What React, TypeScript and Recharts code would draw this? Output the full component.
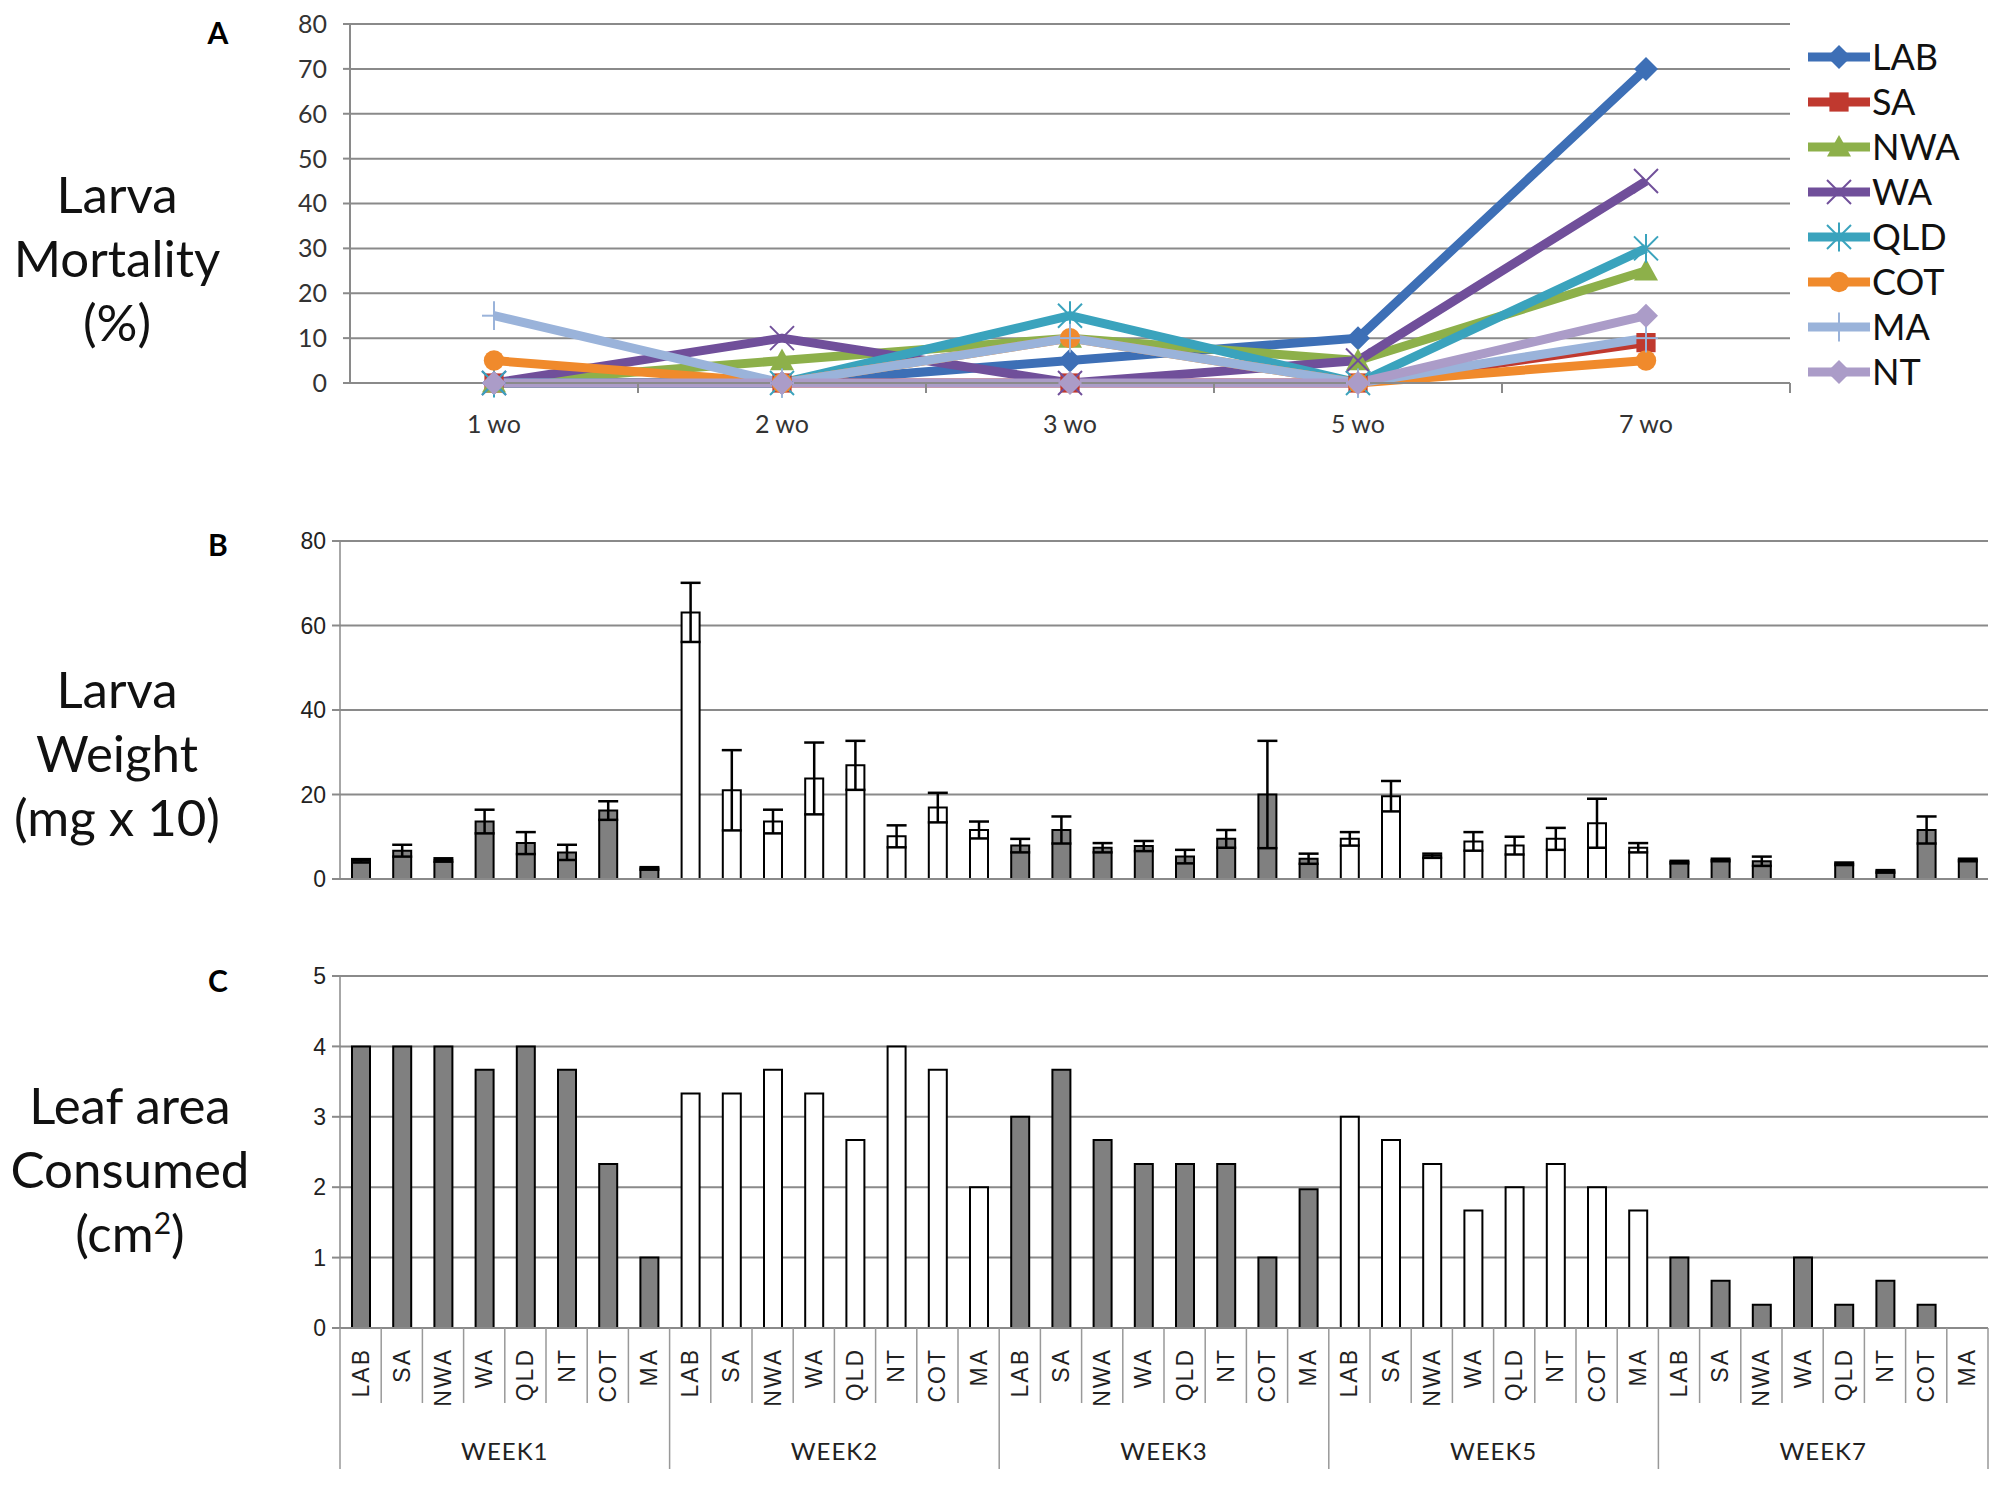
import React from 'react';
import { LineChart, Line, BarChart, Bar, XAxis, YAxis, CartesianGrid, ErrorBar, Cell } from 'recharts';

// ---- panel A: larva mortality (%) ----
const timepoints = ['1 wo', '2 wo', '3 wo', '5 wo', '7 wo'];
const LAB = [0, 0, 5, 10, 70];
const SA = [0, 0, 0, 0, 9];
const NWA = [0, 5, 10, 5, 25];
const WA = [0, 10, 0, 5, 45];
const QLD = [0, 0, 15, 0, 30];
const COT = [5, 0, 10, 0, 5];
const MA = [15, 0, 10, 0, 10];
const NT = [0, 0, 0, 0, 15];

const mortalitySeries = [
  { name: 'LAB', values: LAB, color: '#3d6fb6', shape: 'diamond' },
  { name: 'SA', values: SA, color: '#c0392f', shape: 'square' },
  { name: 'NWA', values: NWA, color: '#8db04a', shape: 'triangle' },
  { name: 'WA', values: WA, color: '#704f9a', shape: 'x' },
  { name: 'QLD', values: QLD, color: '#3aa3bd', shape: 'star' },
  { name: 'COT', values: COT, color: '#f08a2c', shape: 'circle' },
  { name: 'MA', values: MA, color: '#9ab3da', shape: 'plus' },
  { name: 'NT', values: NT, color: '#ab9cc8', shape: 'diamond' },
];

// ---- panels B and C ----
const sites = ['LAB', 'SA', 'NWA', 'WA', 'QLD', 'NT', 'COT', 'MA'];
const weeks = ['WEEK1', 'WEEK2', 'WEEK3', 'WEEK5', 'WEEK7'];
const weekFill = ['#808080', '#ffffff', '#808080', '#ffffff', '#808080'];

const weightW1 = [4.3, 6.7, 4.5, 13.6, 8.5, 6.3, 16.2, 2.5];
const weightW2 = [63.1, 21.0, 13.6, 23.8, 26.9, 10.1, 16.9, 11.6];
const weightW3 = [7.9, 11.6, 7.4, 7.8, 5.3, 9.5, 20.0, 4.8];
const weightW5 = [9.5, 19.6, 5.5, 8.9, 7.9, 9.5, 13.2, 7.4];
const weightW7 = [4.0, 4.5, 4.2, null, 3.6, 1.8, 11.6, 4.5];

const errW1 = [0.4, 1.4, 0.4, 2.8, 2.6, 1.8, 2.2, 0.3];
const errW2 = [7.0, 9.5, 2.8, 8.5, 5.8, 2.6, 3.5, 2.0];
const errW3 = [1.6, 3.2, 1.1, 1.2, 1.6, 2.1, 12.7, 1.2];
const errW5 = [1.6, 3.6, 0.5, 2.2, 2.1, 2.6, 5.8, 1.1];
const errW7 = [0.3, 0.3, 1.1, null, 0.3, 0.3, 3.2, 0.3];

const leafW1 = [4, 4, 4, 3.67, 4, 3.67, 2.33, 1];
const leafW2 = [3.33, 3.33, 3.67, 3.33, 2.67, 4, 3.67, 2];
const leafW3 = [3, 3.67, 2.67, 2.33, 2.33, 2.33, 1, 1.97];
const leafW5 = [3, 2.67, 2.33, 1.67, 2, 2.33, 2, 1.67];
const leafW7 = [1, 0.67, 0.33, 1, 0.33, 0.67, 0.33, 0];

const weightByWeek = [weightW1, weightW2, weightW3, weightW5, weightW7];
const errByWeek = [errW1, errW2, errW3, errW5, errW7];
const leafByWeek = [leafW1, leafW2, leafW3, leafW5, leafW7];

const mortalityData = timepoints.map((t, i) => {
  const row: any = { t };
  mortalitySeries.forEach((s) => (row[s.name] = s.values[i]));
  return row;
});

const barData = weeks.flatMap((week, wi) =>
  sites.map((site, si) => ({
    key: `${week}|${site}`,
    week,
    site,
    weight: weightByWeek[wi][si],
    err: errByWeek[wi][si],
    leaf: leafByWeek[wi][si],
    fill: weekFill[wi],
  }))
);

const GRID = '#8a8a8a';
const A_LEFT = 350;
const A_RIGHT = 1790;
const BC_LEFT = 340;
const BC_RIGHT = 1988;

const Marker = ({ shape, cx, cy, color, s = 12 }: any) => {
  switch (shape) {
    case 'diamond':
      return <polygon points={`${cx},${cy - s} ${cx + s},${cy} ${cx},${cy + s} ${cx - s},${cy}`} fill={color} />;
    case 'square':
      return <rect x={cx - s * 0.8} y={cy - s * 0.8} width={s * 1.6} height={s * 1.6} fill={color} />;
    case 'triangle':
      return <polygon points={`${cx},${cy - s} ${cx + s},${cy + s * 0.8} ${cx - s},${cy + s * 0.8}`} fill={color} />;
    case 'circle':
      return <circle cx={cx} cy={cy} r={s * 0.85} fill={color} />;
    case 'x':
      return (
        <g stroke={color} strokeWidth={2}>
          <line x1={cx - s} y1={cy - s} x2={cx + s} y2={cy + s} />
          <line x1={cx - s} y1={cy + s} x2={cx + s} y2={cy - s} />
        </g>
      );
    case 'star':
      return (
        <g stroke={color} strokeWidth={2}>
          <line x1={cx - s} y1={cy - s} x2={cx + s} y2={cy + s} />
          <line x1={cx - s} y1={cy + s} x2={cx + s} y2={cy - s} />
          <line x1={cx} y1={cy - s * 1.2} x2={cx} y2={cy + s * 1.2} />
        </g>
      );
    case 'plus':
      return (
        <g stroke={color} strokeWidth={2}>
          <line x1={cx} y1={cy - s * 1.2} x2={cx} y2={cy + s * 1.2} />
          <line x1={cx - s} y1={cy} x2={cx + s} y2={cy} />
        </g>
      );
    default:
      return null;
  }
};

const TimeTick = ({ x, y, payload }: any) => {
  const half = (A_RIGHT - A_LEFT) / timepoints.length / 2;
  return (
    <g>
      <line x1={x + half} x2={x + half} y1={y} y2={y + 10} stroke={GRID} strokeWidth={2} />
      <text x={x} y={y + 40} textAnchor="middle" dominantBaseline="central" fontFamily="Lato" fontSize={25} fill="#333">
        {payload.value}
      </text>
    </g>
  );
};

const SiteTick = ({ x, y, payload, index }: any) => {
  const [week, site] = String(payload.value).split('|');
  const bw = (BC_RIGHT - BC_LEFT) / barData.length;
  const groupEnd = (index + 1) % sites.length === 0;
  return (
    <g>
      <text
        transform={`translate(${x},${y + 20}) rotate(-90)`}
        textAnchor="end"
        dominantBaseline="central"
        fontFamily="Liberation Sans"
        fontSize={23}
        letterSpacing={2}
        fill="#222"
      >
        {site}
      </text>
      <line x1={x + bw / 2} x2={x + bw / 2} y1={y} y2={y + (groupEnd ? 141 : 75)} stroke="#999" strokeWidth={1.5} />
      {index === 0 && <line x1={x - bw / 2} x2={x - bw / 2} y1={y} y2={y + 141} stroke="#999" strokeWidth={1.5} />}
      {index % sites.length === 3 && (
        <text x={x + bw / 2} y={y + 122} textAnchor="middle" dominantBaseline="central" fontFamily="Lato" fontSize={24} letterSpacing={1} fill="#222">
          {week}
        </text>
      )}
    </g>
  );
};

const SideTitle = ({ children, cx, top }: any) => (
  <div
    style={{
      position: 'absolute',
      left: cx - 160,
      width: 320,
      top,
      textAlign: 'center',
      fontFamily: 'Lato',
      fontSize: 51,
      lineHeight: '64px',
      color: '#111',
    }}
  >
    {children}
  </div>
);

const PanelLetter = ({ children, top }: any) => (
  <div style={{ position: 'absolute', left: 203, width: 30, top, textAlign: 'center', fontFamily: 'Lato', fontWeight: 700, fontSize: 30, lineHeight: '30px', color: '#000' }}>
    {children}
  </div>
);

const axisTick = { fontFamily: 'Liberation Sans', fontSize: 23, fill: '#222' };

const App = () => {
  return (
    <div style={{ position: 'relative', width: 2009, height: 1486, background: '#fff', overflow: 'hidden' }}>
      <style>{'body{margin:0}'}</style>

      {/* ---- A ---- */}
      <PanelLetter top={17}>A</PanelLetter>
      <SideTitle cx={117} top={162}>
        Larva
        <br />
        Mortality
        <br />
        (%)
      </SideTitle>
      <div style={{ position: 'absolute', left: 0, top: 0 }}>
        <LineChart width={1800} height={450} data={mortalityData} margin={{ top: 24, right: 10, bottom: 17, left: 290 }}>
          <CartesianGrid vertical={false} stroke={GRID} strokeWidth={2} />
          <XAxis
            dataKey="t"
            padding={{ left: (A_RIGHT - A_LEFT) / 10, right: (A_RIGHT - A_LEFT) / 10 }}
            axisLine={{ stroke: GRID, strokeWidth: 2 }}
            tickLine={false}
            tickSize={0}
            tickMargin={0}
            height={50}
            interval={0}
            tick={(p: any) => <TimeTick {...p} />}
          />
          <YAxis
            width={60}
            domain={[0, 80]}
            ticks={[0, 10, 20, 30, 40, 50, 60, 70, 80]}
            axisLine={{ stroke: GRID, strokeWidth: 2 }}
            tickLine={{ stroke: GRID, strokeWidth: 2 }}
            tickSize={7}
            tickMargin={16}
            tick={{ fontFamily: 'Lato', fontSize: 25, fill: '#333' }}
          />
          {mortalitySeries.map((s) => (
            <Line
              key={s.name}
              dataKey={s.name}
              stroke={s.color}
              strokeWidth={9}
              strokeLinejoin="round"
              isAnimationActive={false}
              dot={(p: any) => (
                <g key={`${s.name}-${p.index}`}>
                  <Marker shape={s.shape} cx={p.cx} cy={p.cy} color={s.color} />
                </g>
              )}
              activeDot={false}
            />
          ))}
        </LineChart>
      </div>
      <div style={{ position: 'absolute', left: 1806, top: 34 }}>
        {mortalitySeries.map((s) => (
          <div key={s.name} style={{ display: 'flex', alignItems: 'center', height: 45 }}>
            <svg width={66} height={30}>
              <line x1={2} x2={64} y1={15} y2={15} stroke={s.color} strokeWidth={9} />
              <Marker shape={s.shape} cx={33} cy={15} color={s.color} s={12} />
            </svg>
            <span style={{ fontFamily: 'Lato', fontSize: 36, lineHeight: '45px', color: '#111' }}>{s.name}</span>
          </div>
        ))}
      </div>

      {/* ---- B ---- */}
      <PanelLetter top={529}>B</PanelLetter>
      <SideTitle cx={117} top={657}>
        Larva
        <br />
        Weight
        <br />
        (mg x 10)
      </SideTitle>
      <div style={{ position: 'absolute', left: 0, top: 500 }}>
        <BarChart width={2009} height={400} data={barData} barSize={18} margin={{ top: 41, right: 2009 - BC_RIGHT, bottom: 11, left: BC_LEFT - 60 }}>
          <CartesianGrid vertical={false} stroke={GRID} strokeWidth={2} />
          <XAxis dataKey="key" tick={false} tickLine={false} height={10} axisLine={{ stroke: GRID, strokeWidth: 2 }} />
          <YAxis
            width={60}
            domain={[0, 80]}
            ticks={[0, 20, 40, 60, 80]}
            axisLine={{ stroke: GRID, strokeWidth: 1.5 }}
            tickLine={{ stroke: GRID, strokeWidth: 2 }}
            tickSize={8}
            tickMargin={6}
            tick={axisTick}
          />
          <Bar dataKey="weight" stroke="#000" strokeWidth={2} isAnimationActive={false}>
            {barData.map((d) => (
              <Cell key={d.key} fill={d.fill} />
            ))}
            <ErrorBar dataKey="err" width={10} stroke="#000" strokeWidth={2.5} direction="y" />
          </Bar>
        </BarChart>
      </div>

      {/* ---- C ---- */}
      <PanelLetter top={965}>C</PanelLetter>
      <SideTitle cx={130} top={1073}>
        Leaf area
        <br />
        Consumed
        <br />
        (cm<sup style={{ fontSize: 30, lineHeight: 0 }}>2</sup>)
      </SideTitle>
      <div style={{ position: 'absolute', left: 0, top: 930 }}>
        <BarChart width={2009} height={556} data={barData} barSize={18} margin={{ top: 46, right: 2009 - BC_RIGHT, bottom: 17, left: BC_LEFT - 60 }}>
          <CartesianGrid vertical={false} stroke={GRID} strokeWidth={2} />
          <XAxis
            dataKey="key"
            height={141}
            interval={0}
            tickLine={false}
            tickSize={0}
            tickMargin={0}
            axisLine={{ stroke: GRID, strokeWidth: 2 }}
            tick={(p: any) => <SiteTick {...p} />}
          />
          <YAxis
            width={60}
            domain={[0, 5]}
            ticks={[0, 1, 2, 3, 4, 5]}
            axisLine={{ stroke: GRID, strokeWidth: 1.5 }}
            tickLine={{ stroke: GRID, strokeWidth: 2 }}
            tickSize={8}
            tickMargin={6}
            tick={axisTick}
          />
          <Bar dataKey="leaf" stroke="#000" strokeWidth={2} isAnimationActive={false}>
            {barData.map((d) => (
              <Cell key={d.key} fill={d.fill} />
            ))}
          </Bar>
        </BarChart>
      </div>
    </div>
  );
};

export default App;
